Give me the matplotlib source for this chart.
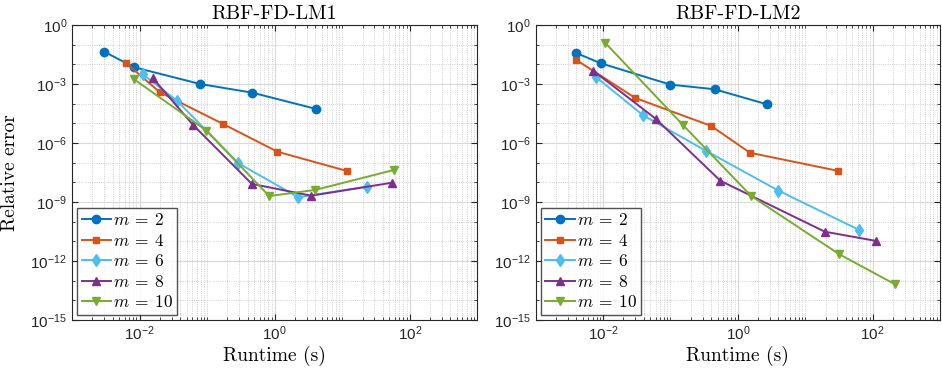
import numpy as np
import matplotlib
matplotlib.use("Agg")
import matplotlib.pyplot as plt
from matplotlib.ticker import LogLocator, FuncFormatter, NullFormatter

# tick labels in a Helvetica-like sans, legend maths in Computer Modern
plt.rcParams['mathtext.fontset'] = 'custom'
plt.rcParams['mathtext.rm'] = 'Liberation Sans'
plt.rcParams['mathtext.it'] = 'Liberation Sans:italic'
plt.rcParams['mathtext.bf'] = 'Liberation Sans:bold'
plt.rcParams['font.family'] = 'Liberation Sans'

# m values and MATLAB-like colours / markers
m_values = [2, 4, 6, 8, 10]
colors = ['#0072BD', '#D95319', '#4DBEEE', '#7E2F8E', '#77AC30']
markers = ['o', 's', 'd', '^', 'v']

# RBF-FD-LM1: runtime (s) and relative error
lm1_time = {
    2: [3.0e-3, 8.3e-3, 7.9e-2, 4.7e-1, 4.1e0],
    4: [6.3e-3, 2.0e-2, 1.7e-1, 1.1e0, 1.17e1],
    6: [1.12e-2, 3.6e-2, 2.9e-1, 2.24e0, 2.34e1],
    8: [1.58e-2, 6.2e-2, 4.6e-1, 3.47e0, 5.4e1],
    10: [8.3e-3, 9.8e-2, 8.3e-1, 3.98e0, 5.9e1],
}
lm1_err = {
    2: [4.4e-2, 7.1e-3, 1.0e-3, 3.6e-4, 5.4e-5],
    4: [1.17e-2, 3.8e-4, 9.5e-6, 3.6e-7, 3.8e-8],
    6: [3.1e-3, 1.4e-4, 9.3e-8, 1.74e-9, 6.0e-9],
    8: [1.95e-3, 8.3e-6, 8.3e-9, 2.1e-9, 9.5e-9],
    10: [1.74e-3, 4.3e-6, 2.0e-9, 4.1e-9, 4.3e-8],
}

# RBF-FD-LM2
lm2_time = {
    2: [3.9e-3, 9.3e-3, 1.0e-1, 4.5e-1, 2.7e0],
    4: [4.0e-3, 3.0e-2, 4.0e-1, 1.51e0, 3.1e1],
    6: [7.8e-3, 3.9e-2, 3.4e-1, 4.0e0, 6.2e1],
    8: [7.1e-3, 6.0e-2, 5.5e-1, 1.95e1, 1.12e2],
    10: [1.07e-2, 1.55e-1, 1.58e0, 3.2e1, 2.14e2],
}
lm2_err = {
    2: [3.9e-2, 1.12e-2, 9.3e-4, 5.4e-4, 9.3e-5],
    4: [1.66e-2, 1.95e-4, 7.4e-6, 3.2e-7, 3.8e-8],
    6: [2.3e-3, 2.6e-5, 3.9e-7, 3.8e-9, 3.9e-11],
    8: [4.8e-3, 1.74e-5, 1.2e-8, 3.1e-11, 1.05e-11],
    10: [1.26e-1, 7.9e-6, 2.0e-9, 2.2e-12, 6.6e-14],
}

titles = ['RBF-FD-LM1', 'RBF-FD-LM2']
panels = [(lm1_time, lm1_err), (lm2_time, lm2_err)]

fig = plt.figure(figsize=(9.42, 3.77), dpi=100)
axes = [fig.add_axes([0.0764, 0.1512, 0.4303, 0.7825]),
        fig.add_axes([0.5687, 0.1512, 0.4292, 0.7825])]

def sans_pow(v, pos):
    e = int(round(np.log10(v)))
    return r'$10^{%d}$' % e

for ax, title, (tdata, edata) in zip(axes, titles, panels):
    for m, c, mk in zip(m_values, colors, markers):
        ax.loglog(tdata[m], edata[m], color=c, marker=mk, lw=1.4,
                  ms=6 if mk != 's' else 5, label=r'$m\:=\:%d$' % m)
    ax.set_xlim(1e-3, 1e3)
    ax.set_ylim(1e-15, 1e0)

    ax.xaxis.set_major_locator(plt.FixedLocator([1e-2, 1e0, 1e2]))
    ax.xaxis.set_minor_locator(LogLocator(base=10, subs=np.arange(1, 10), numticks=20))
    ax.yaxis.set_major_locator(plt.FixedLocator([1e-15, 1e-12, 1e-9, 1e-6, 1e-3, 1e0]))
    ax.yaxis.set_minor_locator(plt.FixedLocator([10.0 ** k for k in range(-15, 1)]))
    ax.xaxis.set_major_formatter(FuncFormatter(sans_pow))
    ax.yaxis.set_major_formatter(FuncFormatter(sans_pow))
    ax.xaxis.set_minor_formatter(NullFormatter())
    ax.yaxis.set_minor_formatter(NullFormatter())

    ax.grid(True, which='major', color='#d9d9d9', lw=0.8, ls='-')
    ax.grid(True, which='minor', color='#bfbfbf', lw=0.6, ls=':')
    ax.set_axisbelow(True)
    ax.tick_params(which='both', direction='in', top=True, right=True,
                   labelsize=11, color='#262626', labelcolor='#262626')
    ax.tick_params(which='major', length=4)
    ax.tick_params(which='minor', length=2)
    for s in ax.spines.values():
        s.set_color('#262626')
        s.set_linewidth(0.8)

    ax.set_title(title, fontfamily='cmr10', fontsize=14.5, pad=4)
    ax.set_xlabel('Runtime (s)', fontfamily='cmr10', fontsize=14, labelpad=2)

    leg = ax.legend(loc='lower left', fontsize=12.5, frameon=True, fancybox=False,
                    borderaxespad=0.3, handlelength=1.7, handletextpad=0.1,
                    labelspacing=0.26, borderpad=0.25)
    for t in leg.get_texts():
        t.set_math_fontfamily('cm')
    leg.get_frame().set_edgecolor('#262626')
    leg.get_frame().set_linewidth(1.0)

axes[0].set_ylabel('Relative error', fontfamily='cmr10', fontsize=14, labelpad=8)

fig.savefig('out.png', dpi=100)
